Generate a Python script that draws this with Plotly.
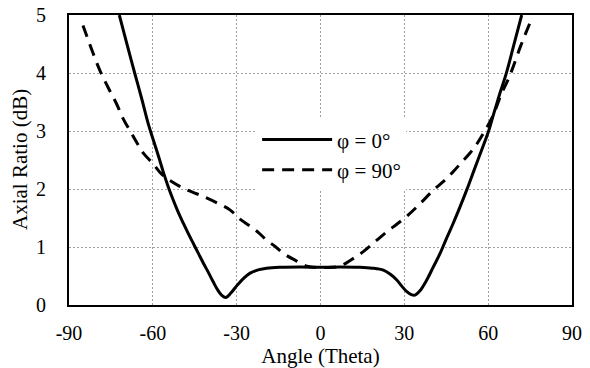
import plotly.graph_objects as go

# phi = 0 deg (solid)
theta0 = [-72, -69, -66.5, -64, -61.5, -59.8, -58, -56.3, -54.5, -52.7, -51, -49.1, -47.3, -45.5, -43.7, -41.9, -40, -38.4, -36.8, -35.4, -33.9,
          -32, -30, -27.5, -25.2, -22, -19.3, -14.5, -7, 0,
          7, 14, 18.5, 22.5, 25, 27.3, 29, 30.9, 32.5, 33.8, 35.5, 38, 40.4, 42.8, 45.1, 47.5, 50, 52.3, 55, 57.5, 60.1, 62, 64.2, 66.4, 69, 72]
ar0 = [5.0, 4.45, 4.0, 3.56, 3.1, 2.84, 2.57, 2.3, 2.04, 1.81, 1.61, 1.41, 1.23, 1.06, 0.89, 0.72, 0.55, 0.40, 0.26, 0.17, 0.13,
       0.21, 0.33, 0.46, 0.55, 0.61, 0.635, 0.65, 0.655, 0.65,
       0.655, 0.65, 0.635, 0.60, 0.53, 0.43, 0.33, 0.23, 0.18, 0.17, 0.24, 0.43, 0.66, 0.89, 1.15, 1.41, 1.70, 1.98, 2.33, 2.65, 2.99, 3.3, 3.65, 3.98, 4.45, 5.0]

# phi = 90 deg (dashed)
theta90 = [-85, -82, -79, -76, -73, -70.5, -68, -65.5, -63.4, -60, -57.5, -55.7, -53, -50.2, -46, -41.9, -37, -32.4, -28.8, -25.2, -22, -19.3,
           -16, -13.3, -9, -4.9, -2, 1, 4, 7, 11, 15.3, 19.5, 23.7, 27.5, 30.9, 35.5, 40.4, 44, 47.5, 50.5, 53.5, 56, 58.3, 61.3, 63,
           64.8, 66.8, 68.5, 71.5, 75]
ar90 = [4.82, 4.42, 4.05, 3.75, 3.47, 3.2, 2.99, 2.78, 2.62, 2.44, 2.29, 2.21, 2.12, 2.04, 1.95, 1.87, 1.76, 1.64, 1.48, 1.36, 1.24, 1.12,
        1.0, 0.89, 0.77, 0.67, 0.65, 0.645, 0.65, 0.67, 0.78, 0.92, 1.09, 1.26, 1.40, 1.53, 1.74, 1.98, 2.13, 2.30, 2.46, 2.62, 2.78, 2.96, 3.22, 3.42,
        3.65, 3.85, 4.05, 4.45, 4.87]

xticks = [-90, -60, -30, 0, 30, 60, 90]
yticks = [0, 1, 2, 3, 4, 5]
y_title = "Axial Ratio (dB)"
x_title = "Angle (Theta)"

FONT = "Liberation Serif, Times New Roman, Tinos, serif"

fig = go.Figure()
fig.add_trace(go.Scatter(x=theta0, y=ar0, mode="lines", name="φ = 0°",
                         line=dict(color="black", width=3, shape="spline", smoothing=1)))
fig.add_trace(go.Scatter(x=theta90, y=ar90, mode="lines", name="φ = 90°",
                         line=dict(color="black", width=3, shape="spline", smoothing=1, dash="12px,8px")))

fig.update_layout(
    width=590, height=368,
    margin=dict(l=69, r=18, t=15, b=63, autoexpand=False),
    paper_bgcolor="white", plot_bgcolor="white",
    font=dict(family=FONT, size=20, color="black"),
    showlegend=True,
    legend=dict(x=0.374, y=0.64, xanchor="left", yanchor="top",
                bgcolor="white", borderwidth=0, itemwidth=70,
                font=dict(family=FONT, size=21), tracegroupgap=0),
    xaxis=dict(range=[-90, 90], tickvals=xticks, ticktext=[str(v) for v in xticks], automargin=False,
               showgrid=True, gridcolor="#a0a0a0", gridwidth=1, griddash="2px,2px",
               zeroline=False, showline=True, linecolor="black", linewidth=2, mirror=True,
               ticks="", ticklabelstandoff=9, tickfont=dict(family=FONT, size=20),
               title=dict(text=x_title, standoff=6, font=dict(family=FONT, size=21))),
    yaxis=dict(range=[0, 5], tickvals=yticks, ticktext=[str(v) for v in yticks], automargin=False,
               showgrid=True, gridcolor="#a0a0a0", gridwidth=1, griddash="2px,2px",
               zeroline=False, showline=True, linecolor="black", linewidth=2, mirror=True,
               ticks="", ticklabelstandoff=17, tickfont=dict(family=FONT, size=20)),
    annotations=[dict(text=y_title, xref="paper", yref="paper", x=-0.0974, y=0.5,
                      xanchor="center", yanchor="middle", textangle=-90, showarrow=False,
                      font=dict(family=FONT, size=21))],
)

fig.write_html("out.html", config={"displayModeBar": False},
               post_script="document.body.style.margin='0';document.body.style.overflow='hidden';")
